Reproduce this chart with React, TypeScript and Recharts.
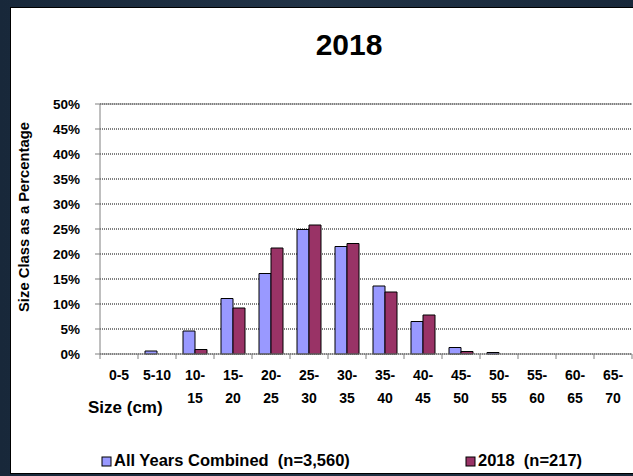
import { Bar, BarChart, CartesianGrid, ReferenceLine, XAxis, YAxis } from 'recharts'

const categories = ['0-5', '5-10', '10-15', '15-20', '20-25', '25-30', '30-35', '35-40', '40-45', '45-50', '50-55', '55-60', '60-65', '65-70']
const allYears = [0, 0.6, 4.6, 11.1, 16.1, 24.9, 21.5, 13.6, 6.5, 1.3, 0.3, 0, 0, 0]
const year2018 = [0, 0, 0.9, 9.2, 21.2, 25.8, 22.1, 12.4, 7.8, 0.5, 0, 0, 0, 0]
const yTicks = [0, 5, 10, 15, 20, 25, 30, 35, 40, 45, 50]
const seriesNames = ['All Years Combined  (n=3,560)', '2018  (n=217)']
const seriesColors = ['#9999FF', '#993366']

const FONT = '"Liberation Sans", Arial, sans-serif'

const data = categories.map((size, i) => ({ size, all: allYears[i], y2018: year2018[i] }))

// category label on two lines like Excel wraps it, tick marks on the band edges
function XTick({ x, y, payload, index }: any) {
  const label: string = payload.value
  const cut = label.indexOf('-') + 1
  const lines = label.length > 4 ? [label.slice(0, cut), label.slice(cut)] : [label]
  const half = payload.offset || 19
  const last = index === categories.length - 1
  return (
    <g>
      <line x1={x - half} x2={x - half} y1={y} y2={y + 5} stroke="#808080" />
      {last && <line x1={x + half} x2={x + half} y1={y} y2={y + 5} stroke="#808080" />}
      <text x={x} y={y} textAnchor="middle" fontFamily={FONT} fontWeight="bold" fontSize={14} fill="#000">
        {lines.map((l, i) => (
          <tspan key={i} x={x} dy={i === 0 ? 26 : 23}>{l}</tspan>
        ))}
      </text>
    </g>
  )
}

export default function App() {
  return (
    <div style={{ position: 'absolute', left: 0, top: 0, width: 633, height: 476, overflow: 'hidden', background: 'linear-gradient(90deg, #18283a, #223447 50%, #18283a)' }}>
      <div style={{ position: 'absolute', left: 10, top: 7, width: 640, height: 465, background: '#fff', border: '1px solid #000' }} />
      <div style={{ position: 'absolute', left: 0, top: 0 }}>
        <BarChart width={633} height={476} data={data} margin={{ top: 104, right: 1, bottom: 0, left: 0 }} barSize={12} barGap={0}>
          <CartesianGrid vertical={false} stroke="#000" strokeDasharray="1 1" />
          <XAxis dataKey="size" height={122} axisLine={{ stroke: '#808080' }} tickLine={false} tickSize={0} tickMargin={0} tick={<XTick />} interval={0} />
          <YAxis domain={[0, 50]} ticks={yTicks} width={100} tickSize={5} tickMargin={15} axisLine={{ stroke: '#808080' }} tickLine={{ stroke: '#808080' }} tickFormatter={(v: number) => `${v}%`} tick={{ fill: '#000', fontFamily: FONT, fontWeight: 'bold', fontSize: 13.5 }} interval={0} />
          <YAxis yAxisId="r" orientation="right" width={0} axisLine={{ stroke: '#808080' }} tick={false} tickLine={false} />
          <ReferenceLine y={50} stroke="#808080" />
          <Bar dataKey="all" name={seriesNames[0]} fill={seriesColors[0]} stroke="#000" strokeWidth={1} isAnimationActive={false} />
          <Bar dataKey="y2018" name={seriesNames[1]} fill={seriesColors[1]} stroke="#000" strokeWidth={1} isAnimationActive={false} />
        </BarChart>
      </div>
      <svg width={633} height={476} style={{ position: 'absolute', left: 0, top: 0, pointerEvents: 'none' }} fontFamily={FONT} fontWeight="bold">
        <text x={349} y={55} textAnchor="middle" fontSize={30}>2018</text>
        <text transform="translate(29,217) rotate(-90)" textAnchor="middle" fontSize={14.8}>Size Class as a Percentage</text>
        <text x={88} y={413} fontSize={17}>Size (cm)</text>
        {seriesNames.map((name, i) => {
          const bx = i === 0 ? 102 : 466
          return (
            <g key={name}>
              <rect x={bx} y={457} width={9} height={9} fill={seriesColors[i]} stroke="#000" />
              <text x={bx + 12} y={466} fontSize={16.5} style={{ whiteSpace: 'pre' }}>{name}</text>
            </g>
          )
        })}
      </svg>
    </div>
  )
}
